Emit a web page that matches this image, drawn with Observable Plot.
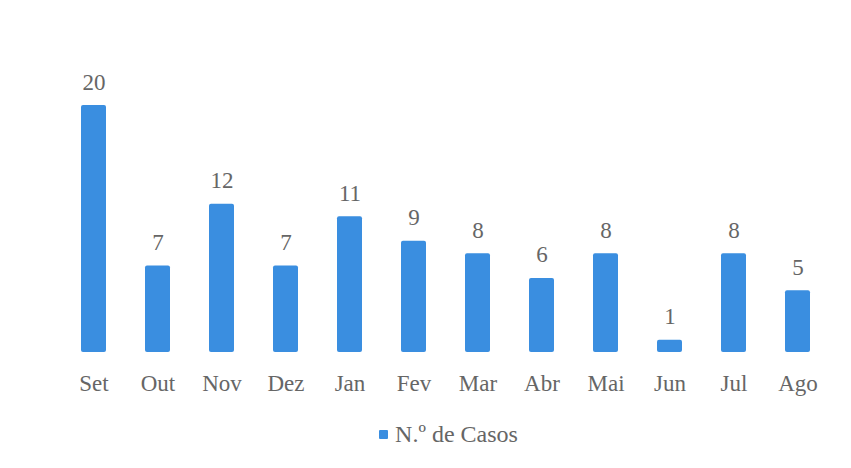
<!DOCTYPE html>
<html>
<head>
<meta charset="utf-8">
<script src="https://cdn.jsdelivr.net/npm/d3@7"></script>
<script src="https://cdn.jsdelivr.net/npm/@observablehq/plot@0.6"></script>
<style>
  html, body { margin: 0; padding: 0; background: #fff; }
  #chart { width: 851px; }
  .legend { height: 53px; display: flex; align-items: center; justify-content: center; font-family: "Liberation Serif", serif; font-size: 24px; color: #666; margin-top: -7px; padding-left: 46px; }
  .legend .sw { width: 9px; height: 9px; background: #3a8ee0; margin-right: 7px; border-radius: 1px; }
</style>
</head>
<body>
<div id="chart"></div>
<script>
const months = ["Set","Out","Nov","Dez","Jan","Fev","Mar","Abr","Mai","Jun","Jul","Ago"];
const cases = [20, 7, 12, 7, 11, 9, 8, 6, 8, 1, 8, 5];
const seriesName = "N.º de Casos";

const data = months.map((m, i) => ({month: m, value: cases[i]}));
const color = "#3a8ee0";
const textColor = "#666";

const plot = Plot.plot({
  width: 851,
  height: 415,
  marginLeft: 58,
  marginRight: 19,
  marginTop: 105,
  marginBottom: 63,
  style: {fontFamily: "'Liberation Serif', serif", fontSize: "23px", color: textColor, background: "#fff"},
  x: {domain: months, paddingInner: 0.61, paddingOuter: 0.305, align: 0.5, label: null},
  y: {domain: [0, 20], axis: null},
  marks: [
    Plot.barY(data, {x: "month", y: "value", fill: color, rx: 2}),
    Plot.text(data, {x: "month", y: "value", text: d => String(d.value), lineAnchor: "bottom", dy: -16, fill: textColor, fontSize: 23}),
    Plot.axisX({tickSize: 0, tickPadding: 22, fontSize: 23, fill: textColor, label: null})
  ]
});
document.getElementById("chart").appendChild(plot);

const legend = document.createElement("div");
legend.className = "legend";
legend.innerHTML = `<span class="sw"></span><span>${seriesName}</span>`;
document.getElementById("chart").appendChild(legend);
</script>
</body>
</html>
